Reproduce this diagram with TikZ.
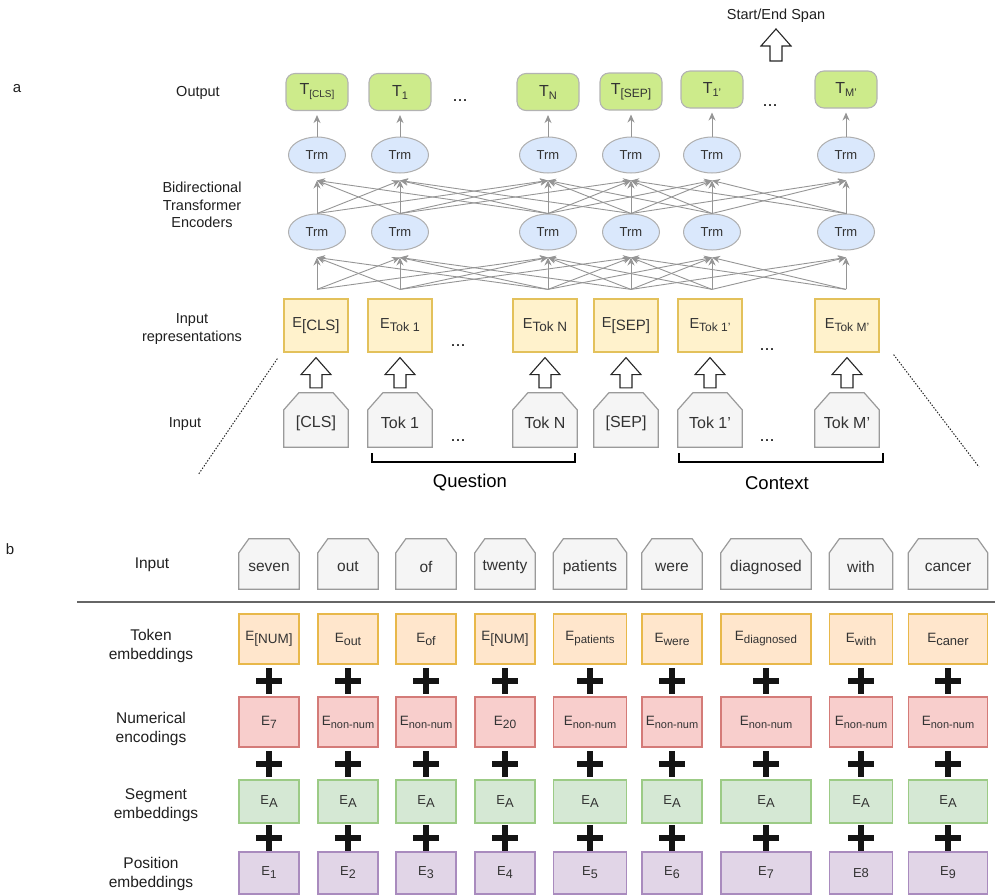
\documentclass[tikz,border=0pt]{standalone}
\usepackage{fontspec}
\setmainfont{Liberation Sans}
\usetikzlibrary{calc,arrows.meta,backgrounds,shapes.geometric}
\definecolor{tgreen}{HTML}{CDEB8B}
\definecolor{tD}{HTML}{B3B3B3}
\definecolor{trmF}{HTML}{DAE8FC}
\definecolor{trmD}{HTML}{AFAFAF}
\definecolor{eyF}{HTML}{FFF2CC}
\definecolor{eyD}{HTML}{E3C15B}
\definecolor{inF}{HTML}{F5F5F5}
\definecolor{inD}{HTML}{9A9A9A}
\definecolor{tkF}{HTML}{FFE6CC}
\definecolor{tkD}{HTML}{E8B84A}
\definecolor{nmF}{HTML}{F8CECC}
\definecolor{nmD}{HTML}{D47B78}
\definecolor{sgF}{HTML}{D5E8D4}
\definecolor{sgD}{HTML}{9CCB86}
\definecolor{psF}{HTML}{E1D5E7}
\definecolor{psD}{HTML}{A98BBE}
\definecolor{connC}{HTML}{959595}
\definecolor{txt}{HTML}{333333}

\newcommand\Sb[2]{\raisebox{-3pt}{\fontsize{#1}{#1}\selectfont #2}}
\newcommand\Lw[1]{\raisebox{-3pt}[\height][\depth]{#1}}
\newcommand\fatup[2]{\draw[fat] let \p1=(#1), \p2=(#2) in
  (\x1-6pt,\y1) -- (\x1+6pt,\y1) -- (\x1+6pt,\y2-17pt) -- (\x1+15pt,\y2-17pt) --
  (\x1,\y2) -- (\x1-15pt,\y2-17pt) -- (\x1-6pt,\y2-17pt) -- cycle;}
\newcommand\pentshape[3]{\draw[pentst] (#1.south west) -- ($(#1.north west)+(0,#3)$) --
  ($(#1.north west)+(#2,0)$) -- ($(#1.north east)+(-#2,0)$) --
  ($(#1.north east)+(0,#3)$) -- (#1.south east) -- cycle;}
\newcommand\plusat[1]{\draw[plusst] let \p1=(#1) in
  (\x1-13pt,\y1) -- (\x1+13pt,\y1) (\x1,\y1-13pt) -- (\x1,\y1+13pt);}

\tikzset{
 lbl/.style={font=\fontsize{14.5}{17.5}\selectfont, align=center, text=black!88, inner sep=0},
 lblb/.style={font=\fontsize{15.5}{18.5}\selectfont, align=center, text=black!88, inner sep=0},
 big/.style={font=\fontsize{18.5}{20}\selectfont, text=black, inner sep=0},
 dotsst/.style={font=\fontsize{18}{18}\selectfont, text=black!90, inner sep=0},
 tbox/.style={draw=tD, fill=tgreen, rounded corners=9pt, minimum width=62, minimum height=37, line width=1.1pt, inner sep=0, font=\fontsize{16}{16}\selectfont, text=txt},
 trm/.style={ellipse, draw=trmD, fill=trmF, minimum width=57, minimum height=36, line width=1pt, inner sep=0, font=\fontsize{13}{13}\selectfont, text=txt},
 ebox/.style={draw=eyD, fill=eyF, minimum width=64, minimum height=53, line width=1.2pt, inner sep=0, font=\fontsize{14.5}{14.5}\selectfont, text=txt},
 inbox/.style={minimum width=64, minimum height=54, inner sep=0, font=\fontsize{16}{16}\selectfont, text=txt},
 pentst/.style={draw=inD, fill=inF, line width=1.2pt},
 fat/.style={draw=black!85, fill=white, line width=1.1pt, line join=miter},
 conn/.style={draw=connC, line width=0.9pt, -{Stealth[length=8pt,width=7pt]}},
 brk/.style={draw=black, line width=2pt},
 dotl/.style={draw=black!85, line width=1pt, dash pattern=on 1.4pt off 1.6pt},
 sepl/.style={draw=black!60, line width=1.5pt},
 bin/.style={minimum height=50, inner sep=0, font=\fontsize{15.5}{15.5}\selectfont, text=txt},
 bx/.style={minimum height=#1, inner sep=0, line width=1.2pt, text=txt, font=\fontsize{13.5}{13.5}\selectfont},
 tkst/.style={bx=50, draw=tkD, fill=tkF},
 nmst/.style={bx=50, draw=nmD, fill=nmF},
 sgst/.style={bx=43, draw=sgD, fill=sgF},
 psst/.style={bx=42, draw=psD, fill=psF},
 plusst/.style={draw=black!92, line width=6pt},
}

\begin{document}
\begin{tikzpicture}[x=1pt,y=-1pt]
\useasboundingbox (0,0) rectangle (995,895);

% ---------------- part a ----------------
\node[lbl, font=\fontsize{15}{15}\selectfont] (la) at (17,89) {a};
\node[lbl] (lout) at (198,93) {Output};
\node[lbl] (lbte) at (202,205) {Bidirectional\\Transformer\\Encoders};
\node[lbl] (lir) at (192,329) {Input\\representations};
\node[lbl] (lin) at (185,424) {Input};

\node[lbl] (se) at (776,16) {Start/End Span};
\coordinate (sebot) at (776,61);
\fatup{sebot}{$(se.south)+(0,6)$}

% output boxes
\node[tbox] (t1) at (317,92) {T\Sb{10}{[CLS]}};
\node[tbox] (t2) at (400,92) {T\Sb{11}{1}};
\node[tbox] (t3) at (548,92) {T\Sb{11}{N}};
\node[tbox] (t4) at (631,91.5) {T\Sb{12}{[SEP]}};
\node[tbox] (t5) at (712,89.5) {T\Sb{11}{1'}};
\node[tbox] (t6) at (846,89.5) {T\Sb{11}{M'}};
\node[dotsst] (d1) at (460,101) {...};
\node[dotsst] (d2) at (770,106) {...};

% transformer rows
\foreach \i/\c in {1/317,2/400,3/548,4/631,5/712,6/846}{
  \node[trm] (ut\i) at (\c,155) {Trm};
  \node[trm] (lt\i) at (\c,232) {Trm};
}

% input representations
\node[ebox] (e1) at (316,325.5) {E\Sb{15}{[CLS]}};
\node[ebox] (e2) at (400,325.5) {E\Sb{12.5}{Tok 1}};
\node[ebox] (e3) at (545,325.5) {E\Sb{13.5}{Tok N}};
\node[ebox] (e4) at (626,325.5) {E\Sb{15}{[SEP]}};
\node[ebox] (e5) at (710,325.5) {E\Sb{12}{Tok 1'}};
\node[ebox] (e6) at (847,325.5) {E\Sb{12}{Tok M'}};
\node[dotsst] (d3) at (458,346) {...};
\node[dotsst] (d4) at (767,350) {...};

% inputs
\node[inbox] (in1) at (316,420) {\Lw{[CLS]}};
\node[inbox] (in2) at (400,420) {\Lw{Tok 1}};
\node[inbox] (in3) at (545,420) {\Lw{Tok N}};
\node[inbox] (in4) at (626,420) {\Lw{[SEP]}};
\node[inbox] (in5) at (710,420) {\Lw{Tok 1'}};
\node[inbox] (in6) at (847,420) {\Lw{Tok M'}};
\node[dotsst] (d5) at (458,441) {...};
\node[dotsst] (d6) at (767,441) {...};

% connections
\foreach \i in {1,...,6}{
  \draw[conn] (ut\i.north) -- ($(t\i.south)+(0,4)$);
  \foreach \j in {1,...,6}{
    \pgfmathtruncatemacro\dd{abs(\i-\j)}
    \ifnum\dd<3
      \draw[conn] (lt\i.north) -- ($(ut\j.south)+(0,7)$);
      \draw[conn] ($(lt\i.south |- e\i.north)+(0,-9)$) -- ($(lt\j.south)+(0,7)$);
    \fi
  }
  \fatup{$(in\i.north)+(0,-5)$}{$(e\i.south)+(0,5)$}
}

% brackets
\draw[brk] ($(in2.south west)+(4,6)$) -- ($(in2.south west)+(4,15)$) -- ($(in3.south east)+(-2,15)$) -- ($(in3.south east)+(-2,6)$);
\draw[brk] ($(in5.south west)+(1,6)$) -- ($(in5.south west)+(1,15)$) -- ($(in6.south east)+(4,15)$) -- ($(in6.south east)+(4,6)$);
\node[big] (q) at (470,483) {Question};
\node[big] (ctx) at (777,483) {Context};

% dotted zoom lines
\draw[dotl] ($(e1.south west)+(-6,6)$) -- (198,475);
\draw[dotl] ($(e6.south east)+(14,2)$) -- (979,467);

% ---------------- part b ----------------
\node[lbl, font=\fontsize{15}{15}\selectfont] (lb) at (10,549) {b};
\node[lblb] (lbin) at (152,565) {Input};
\node[lblb] (lbtk) at (151,646) {Token\\embeddings};
\node[lblb] (lbnm) at (151,729) {Numerical\\encodings};
\node[lblb] (lbsg) at (156,805) {Segment\\embeddings};
\node[lblb] (lbps) at (151,874) {Position\\embeddings};
\draw[sepl] (77,602) -- (995,602);

\foreach \k/\px/\w/\inp/\tk/\nm/\ps in {
 1/269/60/seven/{E\Sb{13.5}{[NUM]}}/{E\Sb{12}{7}}/{E\Sb{11.5}{1}},
 2/348/60/out/{E\Sb{12.5}{out}}/{E\Sb{11}{non-num}}/{E\Sb{12.5}{2}},
 3/426/60/of/{E\Sb{12.5}{of}}/{E\Sb{11}{non-num}}/{E\Sb{12.5}{3}},
 4/505/60/twenty/{E\Sb{13.5}{[NUM]}}/{E\Sb{12}{20}}/{E\Sb{12.5}{4}},
 5/590/73/patients/{E\Sb{11.5}{patients}}/{E\Sb{11}{non-num}}/{E\Sb{12.5}{5}},
 6/672/60/were/{E\Sb{12}{were}}/{E\Sb{11}{non-num}}/{E\Sb{12.5}{6}},
 7/766/90/diagnosed/{E\Sb{11.5}{diagnosed}}/{E\Sb{11}{non-num}}/{E\Sb{12.5}{7}},
 8/861/63/with/{E\Sb{12}{with}}/{E\Sb{11}{non-num}}/{E8},
 9/948/79/cancer/{E\Sb{13}{caner}}/{E\Sb{11}{non-num}}/{E\Sb{12.5}{9}}}{
  \node[bin, minimum width=\w] (bi\k) at (\px,564) {\Lw{\inp}};
  \node[tkst, minimum width=\w] (tk\k) at (\px,639) {\tk};
  \node[nmst, minimum width=\w] (nm\k) at (\px,722) {\nm};
  \node[sgst, minimum width=\w, font=\fontsize{13}{13}\selectfont] (sg\k) at (\px,801.5) {E\Sb{13}{A}};
  \node[psst, minimum width=\w, font=\fontsize{13}{13}\selectfont] (ps\k) at (\px,873) {\ps};
  \coordinate (pa\k) at ($(tk\k.south)!0.5!(nm\k.north)$);
  \coordinate (pb\k) at ($(nm\k.south)!0.5!(sg\k.north)$);
  \coordinate (pc\k) at ($(sg\k.south)!0.5!(ps\k.north)$);
  \plusat{pa\k}
  \plusat{pb\k}
  \plusat{pc\k}
}

\begin{pgfonlayer}{background}
\foreach \i in {1,...,6}{\pentshape{in\i}{15}{17}}
\foreach \i in {1,...,9}{\pentshape{bi\i}{10}{14}}
\end{pgfonlayer}
\end{tikzpicture}
\end{document}
